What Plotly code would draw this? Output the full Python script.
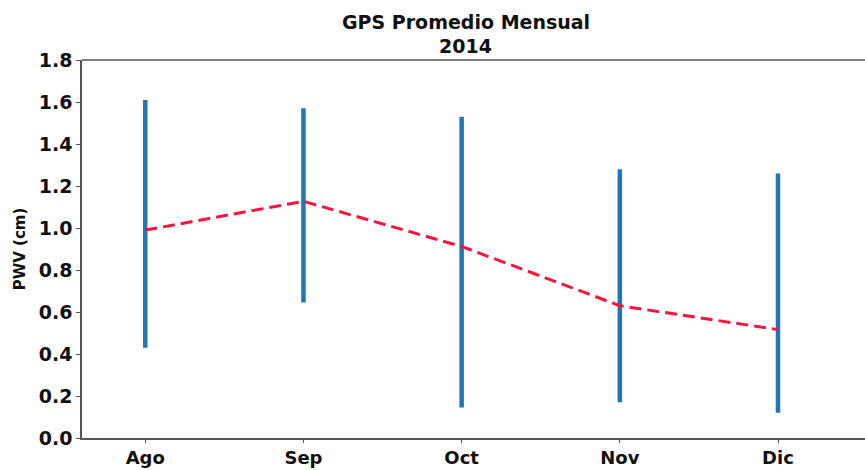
import plotly.graph_objects as go

# Monthly GPS precipitable water vapour, 2014
months = ["Ago", "Sep", "Oct", "Nov", "Dic"]
pwv_min = [0.43, 0.645, 0.145, 0.17, 0.12]
pwv_max = [1.61, 1.57, 1.53, 1.28, 1.26]
pwv_mean = [0.99, 1.127, 0.912, 0.63, 0.516]
y_ticks = [0.0, 0.2, 0.4, 0.6, 0.8, 1.0, 1.2, 1.4, 1.6, 1.8]

xi = list(range(len(months)))

# vertical min-max range per month, one segment each
seg_x, seg_y = [], []
for i, lo, hi in zip(xi, pwv_min, pwv_max):
    seg_x += [i, i, None]
    seg_y += [lo, hi, None]

font_family = "DejaVu Sans"
ytick_font = dict(family=font_family, size=19, weight="bold", color="#111")
xtick_font = dict(family=font_family, size=18, weight="bold", color="#111")

fig = go.Figure()
fig.add_trace(go.Scatter(
    x=seg_x, y=seg_y, mode="lines",
    line=dict(color="#1f77b4", width=4.5),
    showlegend=False, hoverinfo="skip",
))
fig.add_trace(go.Scatter(
    x=xi, y=pwv_mean, mode="lines",
    line=dict(color="#f5153d", width=3, dash="12px,6px"),
    showlegend=False,
))

fig.update_layout(
    width=865, height=470,
    margin=dict(l=82, r=0, t=60, b=32),
    paper_bgcolor="white", plot_bgcolor="white",
    font=dict(family=font_family, color="black"),
    xaxis=dict(
        range=[-0.4, 4.55],
        tickmode="array", tickvals=xi, ticktext=months,
        tickfont=xtick_font,
        ticks="outside", ticklen=3, tickcolor="#555",
        showline=True, linecolor="#555", linewidth=1.5,
        showgrid=False, zeroline=False,
    ),
    yaxis=dict(
        range=[0, 1.8],
        tickmode="array", tickvals=y_ticks,
        ticktext=[f"{v:.1f}" for v in y_ticks],
        tickfont=ytick_font,
        ticks="outside", ticklen=4, tickcolor="#555",
        showline=True, linecolor="#555", linewidth=1.5, mirror=False,
        showgrid=False, zeroline=False,
        title=dict(text="PWV (cm)", standoff=10,
                   font=dict(family=font_family, size=15, weight="bold", color="#111")),
    ),
)

# two-line title as centred annotations above the axes
title_font = dict(family=font_family, size=19, weight="bold", color="#111")
fig.add_annotation(text="GPS Promedio Mensual", xref="paper", yref="paper",
                   x=0.49, y=1.0, yshift=38, xanchor="center", yanchor="middle",
                   showarrow=False, font=title_font)
fig.add_annotation(text="2014", xref="paper", yref="paper",
                   x=0.49, y=1.0, yshift=14, xanchor="center", yanchor="middle",
                   showarrow=False, font=title_font)

# top spine
fig.add_shape(type="line", xref="paper", yref="paper", x0=0, x1=1, y0=1, y1=1,
              line=dict(color="#555", width=1.5))

fig.write_html("out.html")
